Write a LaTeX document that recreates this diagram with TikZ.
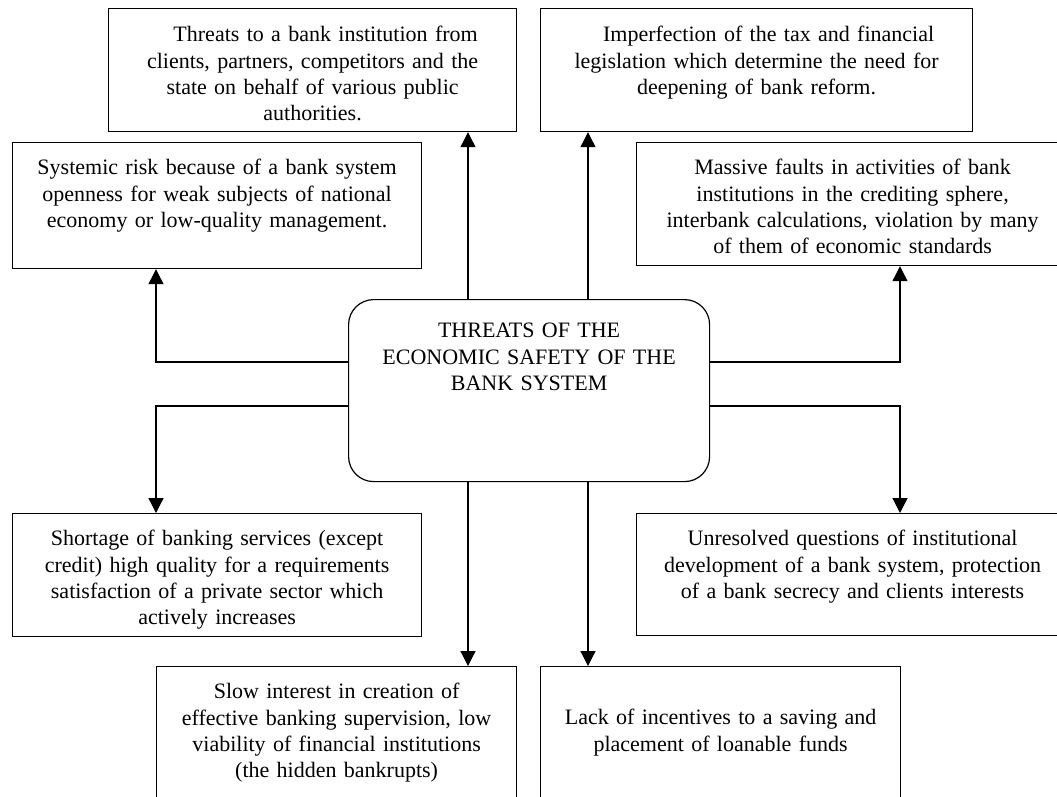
\documentclass[tikz,border=0pt]{standalone}
\usepackage{fontspec}
\setmainfont{Liberation Serif}
\usetikzlibrary{arrows.meta}

\begin{document}
\begin{tikzpicture}[x=1pt, y=-1pt, line width=1.2pt,
    threat/.style 2 args={draw, rectangle, anchor=north west, inner sep=0pt,
        text width=#1, align=center, text height=32pt, text depth=#2,
        font=\fontsize{22}{26.4}\selectfont},
    link/.style={-{Triangle[length=15pt, width=15pt]}}]
    \useasboundingbox (0,0) rectangle (1057,796);
    \clip (0,0) rectangle (1057,796);

    \node[threat={361pt}{144pt}, rounded corners=25pt, text height=38pt] (core) at (348,299)
        {THREATS OF THE\\ECONOMIC SAFETY OF THE\\BANK SYSTEM};

    \node[threat={408pt}{90pt}, text height=33pt] (tl) at (108,8)
        {\hspace*{26pt}Threats to a bank institution from\\clients, partners, competitors and the\\state on behalf of various public\\authorities.};
    \node[threat={432pt}{90pt}, text height=33pt] (tr) at (540,8)
        {\hspace*{24pt}Imperfection of the tax and financial\\legislation which determine the need for\\deepening of bank reform.};
    \node[threat={409pt}{94pt}] (sys) at (12,142)
        {Systemic risk because of a bank system\\openness for weak subjects of national\\economy or low-quality management.};
    \node[threat={432pt}{91pt}] (mass) at (636,142)
        {Massive faults in activities of bank\\institutions in the crediting sphere,\\interbank calculations, violation by many\\of them of economic standards};
    \node[threat={409pt}{91pt}] (short) at (12,513)
        {Shortage of banking services (except\\credit) high quality for a requirements\\satisfaction of a private sector which\\actively increases};
    \node[threat={432pt}{90pt}] (unres) at (636,513)
        {Unresolved questions of institutional\\development of a bank system, protection\\of a bank secrecy and clients interests};
    \node[threat={360pt}{118pt}] (slow) at (156,666)
        {Slow interest in creation of\\effective banking supervision, low\\viability of financial institutions\\(the hidden bankrupts)};
    \node[threat={360pt}{92pt}, text height=58pt] (lack) at (540,666)
        {Lack of incentives to a saving and\\placement of loanable funds};

    \coordinate (lx) at (468,0);
    \coordinate (rx) at (588,0);
    \coordinate (farl) at (156,0);
    \coordinate (farr) at (900,0);
    \coordinate (hi) at (0,362);
    \coordinate (lo) at (0,406);

    \draw[link] (lx |- core.north) -- (lx |- tl.south);
    \draw[link] (rx |- core.north) -- (rx |- tr.south);
    \draw[link] (core.west |- hi) -| (farl |- sys.south);
    \draw[link] (core.east |- hi) -| (farr |- mass.south);
    \draw[link] (core.west |- lo) -| (farl |- short.north);
    \draw[link] (core.east |- lo) -| (farr |- unres.north);
    \draw[link] (lx |- core.south) -- (lx |- slow.north);
    \draw[link] (rx |- core.south) -- (rx |- lack.north);
\end{tikzpicture}
\end{document}
